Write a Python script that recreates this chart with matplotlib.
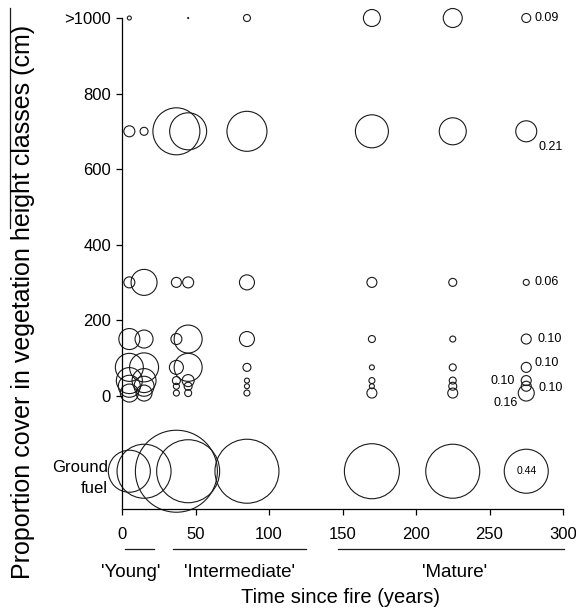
import matplotlib
matplotlib.use('Agg')
import matplotlib.pyplot as plt
from matplotlib.lines import Line2D
import numpy as np

plt.rcParams['font.family'] = ['Liberation Sans', 'DejaVu Sans']

# time since fire (years) of each site
years = [5, 15, 37, 45, 85, 170, 225, 275]

# height classes (cm), ground fuel drawn at -200
levels = [1000, 700, 300, 150, 75, 40, 25, 7, -200]
ytick_pos = [0, 200, 400, 600, 800, 1000]
ytick_labels = ['0', '200', '400', '600', '800', '>1000']

# proportion cover per height class (one value per site)
cover_gt1000 = [0.04, 0.0, 0.0, 0.01, 0.07, 0.17, 0.19, 0.09]
cover_700 = [0.11, 0.08, 0.47, 0.37, 0.40, 0.33, 0.27, 0.21]
cover_300 = [0.11, 0.26, 0.10, 0.11, 0.15, 0.10, 0.08, 0.06]
cover_150 = [0.21, 0.18, 0.11, 0.28, 0.15, 0.07, 0.06, 0.10]
cover_75 = [0.28, 0.29, 0.14, 0.28, 0.08, 0.05, 0.07, 0.10]
cover_40 = [0.26, 0.24, 0.08, 0.12, 0.05, 0.06, 0.07, 0.10]
cover_25 = [0.22, 0.20, 0.06, 0.08, 0.05, 0.05, 0.08, 0.10]
cover_7 = [0.18, 0.16, 0.06, 0.07, 0.06, 0.10, 0.10, 0.16]
cover_ground = [0.42, 0.54, 0.82, 0.63, 0.64, 0.55, 0.54, 0.44]
rows = [cover_gt1000, cover_700, cover_300, cover_150, cover_75,
        cover_40, cover_25, cover_7, cover_ground]

# labelled values of the oldest site, and where each label sits (points)
label_text = ['0.09', '0.21', '0.06', '0.10', '0.10', '0.10', '0.10', '0.16', '0.44']
label_off = [(6, 0), (9, -11), (6, 0), (8, 0), (6, 3), (-8, 0), (9, -1), (-6, -7), (0, 0)]
label_ha = ['left', 'left', 'left', 'left', 'left', 'right', 'left', 'right', 'center']

groups = ["'Young'", "'Intermediate'", "'Mature'"]
group_span = [(2, 22), (35, 125), (147, 301)]
group_mid = [6, 80, 226]

fig = plt.figure(figsize=(5.76, 6.12), dpi=100)
ax = fig.add_axes([122 / 576, 1 - 509 / 612, 441 / 576, 491 / 612])

for lev, row in zip(levels, rows):
    size = (72 * np.array(row)) ** 2
    ax.scatter(years, [lev] * len(years), s=size, facecolors='none',
               edgecolors='#1a1a1a', linewidths=0.8, clip_on=False)

for lev, row, txt, off, ha in zip(levels, rows, label_text, label_off, label_ha):
    fs = 7.5 if ha == 'center' else 9
    ax.annotate(txt, (years[-1], lev), xytext=off, textcoords='offset points',
                ha=ha, va='center', fontsize=fs)

ax.set_xlim(0, 300)
ax.set_ylim(-300, 1000)
ax.spines['top'].set_visible(False)
ax.spines['right'].set_visible(False)
ax.spines['left'].set_linewidth(0.9)
ax.spines['bottom'].set_linewidth(0.9)
ax.set_xticks(range(0, 301, 50))
ax.set_yticks(ytick_pos)
ax.set_yticklabels(ytick_labels)
ax.tick_params(axis='both', labelsize=12, direction='out', length=4, width=0.9)
ax.tick_params(axis='x', pad=9)
ax.tick_params(axis='y', pad=4)

# ground fuel row label (no tick mark)
ax.annotate('Ground\nfuel', (0, -200), xytext=(-10, -5), textcoords='offset points',
            ha='right', va='center', fontsize=12, linespacing=1.55)

# age groups under the x axis
for name, (a, b), mid in zip(groups, group_span, group_mid):
    ax.plot([a, b], [-0.081, -0.081], color='#1a1a1a', lw=0.9,
            transform=ax.get_xaxis_transform(), clip_on=False)
    ax.text(mid, -0.13, name, ha='center', va='center', fontsize=13.5,
            transform=ax.get_xaxis_transform())

ax.text(0.495, -0.18, 'Time since fire (years)', ha='center', va='center',
        fontsize=14.5, transform=ax.transAxes)
fig.text(23 / 576, 1 - 302 / 612, 'Proportion cover in vegetation height classes (cm)',
         rotation=90, ha='center', va='center', fontsize=18)
fig.add_artist(Line2D([10 / 576, 10 / 576], [1 - 8 / 612, 1 - 228 / 612],
                      color='#1a1a1a', lw=0.9))

fig.savefig('out.png', dpi=100)
